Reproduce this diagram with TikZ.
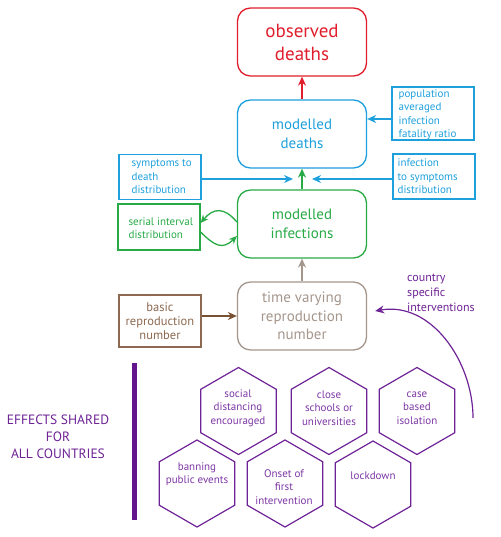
\documentclass[tikz,border=0pt]{standalone}
\usepackage{fontspec}
\setmainfont{PT Sans}
\usetikzlibrary{shapes.geometric,arrows.meta}
\definecolor{cred}{RGB}{225,30,45}
\definecolor{cblue}{RGB}{30,160,220}
\definecolor{cgreen}{RGB}{40,170,70}
\definecolor{ctv}{RGB}{165,150,140}
\definecolor{cbrown}{RGB}{140,105,80}
\definecolor{cbrownarr}{RGB}{120,80,50}
\definecolor{cpurple}{RGB}{110,35,150}
\definecolor{cpurpletext}{RGB}{125,55,165}
\definecolor{cbar}{RGB}{100,20,140}
\begin{document}
\begin{tikzpicture}[x=1pt,y=1pt,
  bigbox/.style={draw,rounded corners=13pt,minimum width=129pt,minimum height=68pt,line width=1.3pt,align=center,inner sep=0pt},
  smallbox/.style={draw,line width=1.2pt,inner sep=0pt,minimum width=82pt},
  smalltext/.style={anchor=west,align=left,inner sep=0pt,font=\fontsize{11}{13.5}\selectfont},
  arr/.style={line width=1.3pt,-{Stealth[length=9pt,width=8pt]}},
  hexa/.style={draw=cpurple,line width=1.2pt,regular polygon,regular polygon sides=6,shape border rotate=30,minimum size=87pt,inner sep=0pt},
  hextext/.style={text=cpurpletext,align=center,font=\fontsize{11}{13.5}\selectfont,inner sep=0pt}
]
\useasboundingbox (0,0) rectangle (500,-537);

% main boxes
\node[bigbox,draw=cred,text=cred,font=\fontsize{19}{23}\selectfont] (obs) at (302,-42) {observed\\deaths};
\node[bigbox,draw=cblue,text=cblue,font=\fontsize{15}{18.5}\selectfont] (md) at (302,-134) {modelled\\deaths};
\node[bigbox,draw=cgreen,text=cgreen,font=\fontsize{15}{18.5}\selectfont] (inf) at (302,-224) {modelled\\infections};
\node[bigbox,draw=ctv,text=ctv,font=\fontsize{15}{18.5}\selectfont] (tv) at (302,-316) {time varying\\reproduction\\number};

% side boxes
\node[smallbox,draw=cblue,minimum height=53pt] (pop) at (433,-113.5) {};
\node[smalltext,text=cblue] (popt) at ([xshift=7pt,yshift=-1pt]pop.west) {population\\averaged\\infection\\fatality ratio};
\node[smallbox,draw=cblue,minimum height=45pt] (std) at (160,-177) {};
\node[smalltext,text=cblue] (stdt) at ([xshift=13pt]std.west) {symptoms to\\death\\distribution};
\node[smallbox,draw=cblue,minimum height=45pt] (its) at (434,-176.5) {};
\node[smalltext,text=cblue] (itst) at ([xshift=5pt]its.west) {infection\\to symptoms\\distribution};
\node[smallbox,draw=cgreen,minimum height=46pt] (ser) at (159,-227) {};
\node[smalltext,text=cgreen] (sert) at ([xshift=11pt,yshift=-1pt]ser.west) {serial interval\\distribution};
\node[smallbox,draw=cbrown,minimum height=52pt,text=cbrown,align=center,font=\fontsize{12.5}{14}\selectfont] (basic) at (160,-321) {basic\\reproduction\\number};

% connectors
\draw[arr,cred] (md.north) -- (obs.south);
\path ([yshift=-5.5pt]pop.west) coordinate (p1);
\draw[arr,cblue] (p1) -- (p1 -| md.east);
\coordinate (jl) at (293,-179);
\coordinate (jr) at (312,-179);
\draw[arr,cblue] (std.east |- jl) -- (jl);
\draw[arr,cblue] (its.west |- jr) -- (jr);
\draw[arr,cgreen] (inf.north) -- (md.south);
\draw[arr,cgreen,-{Stealth[length=8pt,width=7pt]}] ([yshift=2pt]inf.west) to[out=130,in=50,looseness=1.4] ([yshift=4pt]ser.east);
\draw[arr,cgreen,-{Stealth[length=8pt,width=7pt]}] ([yshift=-5pt]ser.east) to[out=-45,in=-135,looseness=1.4] ([yshift=-12pt]inf.west);
\draw[arr,ctv] (tv.north) -- (inf.south);
\draw[arr,cbrownarr] (basic.east |- tv.west) -- (tv.west);

% country specific
\node[text=cpurple,align=left,anchor=west,font=\fontsize{12}{15}\selectfont,inner sep=0pt] (cs) at (407,-293) {country\\specific\\interventions};
\coordinate (cstart) at (473,-418);
\draw[arr,cpurple,line width=1.2pt] (cstart) to[out=90,in=10] ([xshift=8pt,yshift=5pt]tv.east);

% shared effects
\draw[line width=5pt,cbar] (134,-363) -- (134,-520);
\node[text=cpurple,align=center,font=\fontsize{13.5}{17}\selectfont] (eff) at (58,-437) {EFFECTS SHARED\\FOR\\ALL COUNTRIES};

% hexagons
\node[hexa] (h1) at (238.5,-411) {};
\node[hexa] (h2) at (329,-411) {};
\node[hexa] (h3) at (417,-411) {};
\node[hexa] (h4) at (197,-483.5) {};
\node[hexa] (h5) at (285,-483.5) {};
\node[hexa] (h6) at (373,-484.5) {};
\node[hextext] (t1) at (238,-408) {social\\distancing\\encouraged};
\node[hextext] (t2) at (329,-408) {close\\schools or\\universities};
\node[hextext] (t3) at (417,-408) {case\\based\\isolation};
\node[hextext] (t4) at (197,-474) {banning\\public events};
\node[hextext] (t5) at (284,-487) {Onset of\\first\\intervention};
\node[hextext] (t6) at (373,-476) {lockdown};
\end{tikzpicture}
\end{document}
